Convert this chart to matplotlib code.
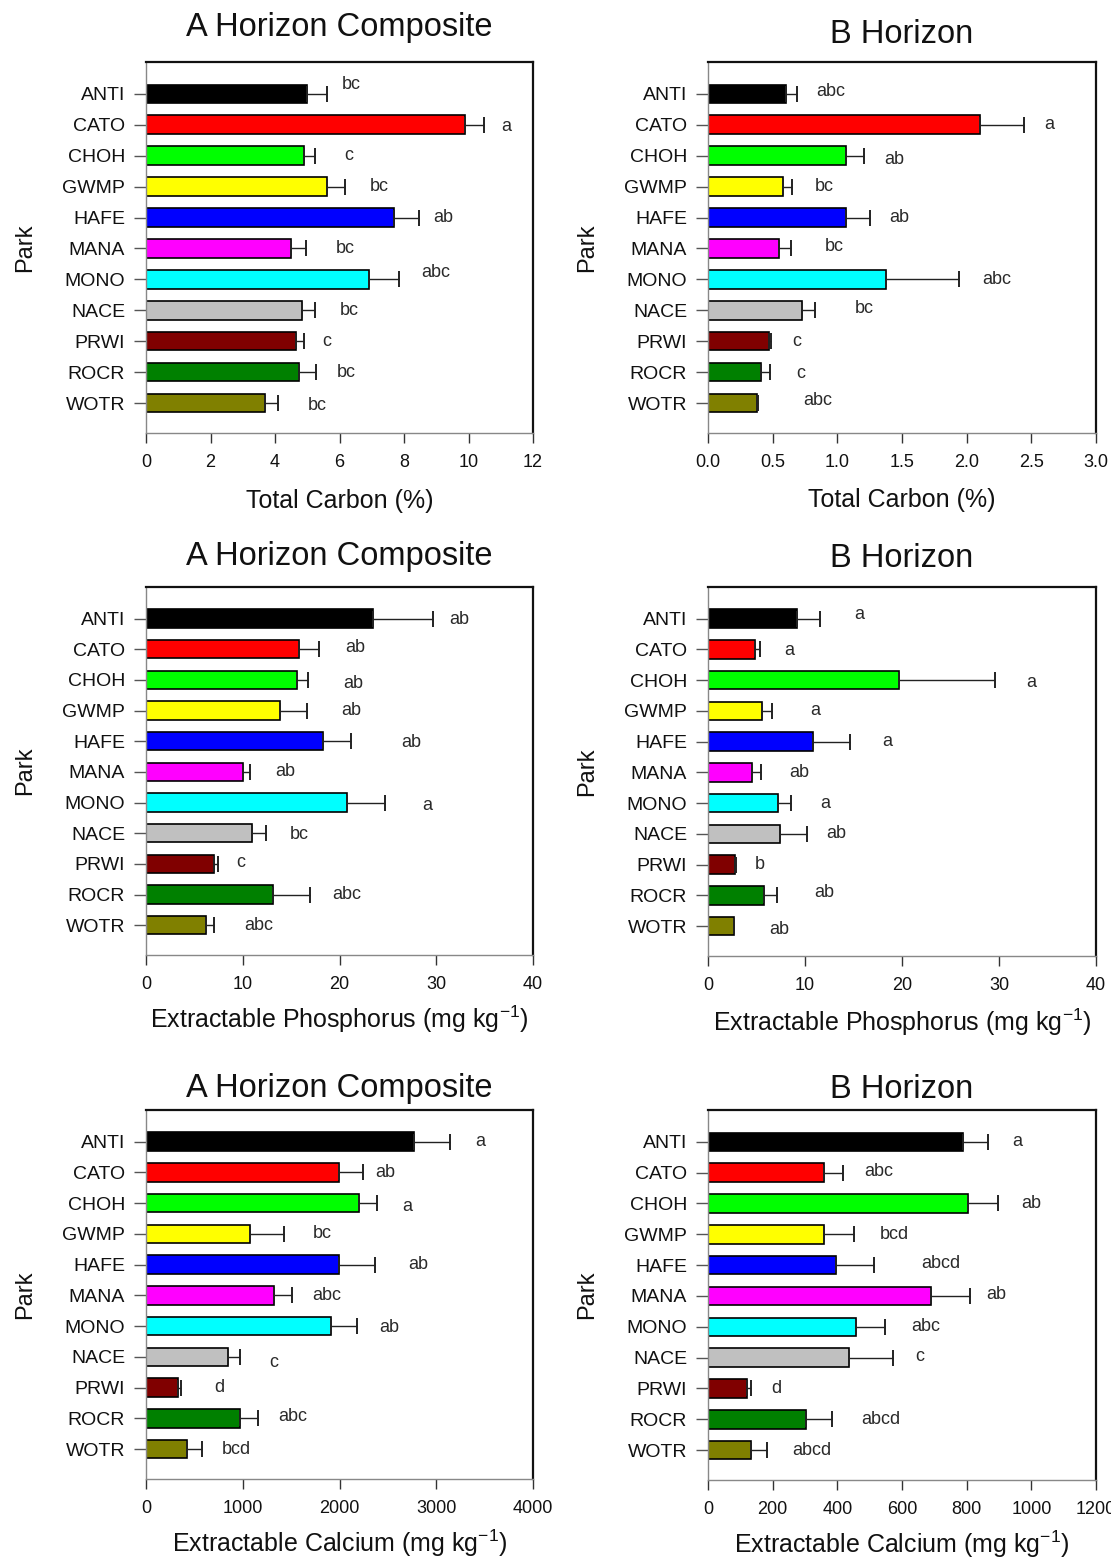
import matplotlib
matplotlib.use('Agg')
import matplotlib.pyplot as plt
import numpy as np

plt.rcParams['font.family'] = ['Liberation Sans', 'DejaVu Sans']
plt.rcParams['mathtext.fontset'] = 'custom'
plt.rcParams['mathtext.rm'] = 'Liberation Sans'
plt.rcParams['mathtext.it'] = 'Liberation Sans:italic'
plt.rcParams['mathtext.bf'] = 'Liberation Sans:bold'
plt.rcParams['mathtext.default'] = 'regular'

# ---------------- data ----------------
parks = ['ANTI', 'CATO', 'CHOH', 'GWMP', 'HAFE', 'MANA', 'MONO', 'NACE', 'PRWI', 'ROCR', 'WOTR']
colors = ['#000000', '#FF0000', '#00FF00', '#FFFF00', '#0000FF', '#FF00FF',
          '#00FFFF', '#C0C0C0', '#800000', '#008000', '#808000']

# Total Carbon (%) - A horizon composite
carbon_a = [5.0, 9.9, 4.9, 5.6, 7.7, 4.5, 6.9, 4.85, 4.65, 4.75, 3.7]
carbon_a_err = [0.6, 0.57, 0.35, 0.57, 0.78, 0.45, 0.94, 0.38, 0.25, 0.53, 0.38]
carbon_a_letters = ['bc', 'a', 'c', 'bc', 'ab', 'bc', 'abc', 'bc', 'c', 'bc', 'bc']
carbon_a_lx = [6.37, 11.18, 6.3, 7.24, 9.23, 6.19, 9.0, 6.3, 5.59, 6.22, 5.31]
carbon_a_ldy = [-0.29, 0.05, 0, 0, 0, 0, -0.21, 0, 0, 0, 0.08]

# Total Carbon (%) - B horizon
carbon_b = [0.60, 2.10, 1.07, 0.58, 1.07, 0.55, 1.38, 0.73, 0.47, 0.41, 0.38]
carbon_b_err = [0.09, 0.34, 0.14, 0.07, 0.18, 0.09, 0.56, 0.10, 0.02, 0.07, 0.01]
carbon_b_letters = ['abc', 'a', 'ab', 'bc', 'ab', 'bc', 'abc', 'bc', 'c', 'c', 'abc']
carbon_b_lx = [0.95, 2.64, 1.44, 0.90, 1.48, 0.98, 2.23, 1.21, 0.69, 0.72, 0.85]
carbon_b_ldy = [-0.08, 0, 0.11, 0, 0, -0.05, 0, -0.05, 0, 0.05, -0.09]

# Extractable Phosphorus (mg/kg) - A horizon composite
phos_a = [23.5, 15.8, 15.6, 13.8, 18.3, 10.0, 20.8, 11.0, 7.0, 13.1, 6.25]
phos_a_err = [6.2, 2.1, 1.1, 2.8, 2.9, 0.7, 3.9, 1.4, 0.4, 3.9, 0.75]
phos_a_letters = ['ab', 'ab', 'ab', 'ab', 'ab', 'ab', 'a', 'bc', 'c', 'abc', 'abc']
phos_a_lx = [32.4, 21.6, 21.4, 21.2, 27.4, 14.4, 29.1, 15.8, 9.8, 20.8, 11.7]
phos_a_ldy = [0.03, -0.05, 0.11, 0, 0.05, 0, 0.11, 0.05, -0.05, 0, 0]

# Extractable Phosphorus (mg/kg) - B horizon
phos_b = [9.15, 4.83, 19.7, 5.56, 10.8, 4.57, 7.2, 7.4, 2.8, 5.78, 2.63]
phos_b_err = [2.4, 0.5, 9.9, 1.0, 3.8, 0.9, 1.35, 2.8, 0.1, 1.3, 0.05]
phos_b_letters = ['a', 'a', 'a', 'a', 'a', 'ab', 'a', 'ab', 'b', 'ab', 'ab']
phos_b_lx = [15.55, 8.4, 33.3, 11.1, 18.5, 9.4, 12.1, 13.2, 5.34, 12.0, 7.3]
phos_b_ldy = [-0.15, 0.05, 0.08, 0, 0, 0, 0, 0, 0, -0.11, 0.11]

# Extractable Calcium (mg/kg) - A horizon composite
calc_a = [2768, 1994, 2203, 1075, 1994, 1328, 1912, 848, 331, 967, 428]
calc_a_err = [372, 246, 186, 354, 376, 186, 265, 119, 34, 186, 149]
calc_a_letters = ['a', 'ab', 'a', 'bc', 'ab', 'abc', 'ab', 'c', 'd', 'abc', 'bcd']
calc_a_lx = [3450, 2470, 2698, 1823, 2817, 1868, 2519, 1317, 759, 1514, 930]
calc_a_ldy = [0, 0, 0.11, 0, 0, 0, 0.05, 0.18, 0, -0.05, 0]

# Extractable Calcium (mg/kg) - B horizon
calc_b = [788, 359, 804, 358, 397, 689, 458, 435, 121, 303, 134]
calc_b_err = [77, 60, 92, 94, 117, 120, 88, 136, 12, 79, 48]
calc_b_letters = ['a', 'abc', 'ab', 'bcd', 'abcd', 'ab', 'abc', 'c', 'd', 'abcd', 'abcd']
calc_b_lx = [957, 527, 999, 576, 719, 891, 672, 656, 211, 536, 321]
calc_b_ldy = [0, -0.05, 0, 0, -0.05, -0.05, 0, -0.05, 0, 0, 0]

carbon_a_ticks = [0, 2, 4, 6, 8, 10, 12]
carbon_b_ticks = [0.0, 0.5, 1.0, 1.5, 2.0, 2.5, 3.0]
phos_ticks = [0, 10, 20, 30, 40]
calc_a_ticks = [0, 1000, 2000, 3000, 4000]
calc_b_ticks = [0, 200, 400, 600, 800, 1000, 1200]

# ---------------- figure ----------------
W, H = 1111, 1559
fig = plt.figure(figsize=(W / 100, H / 100), dpi=100)


def make_axes(left, right, top, bottom):
    return fig.add_axes([left / W, 1 - bottom / H, (right - left) / W, (bottom - top) / H])


def panel(box, vals, errs, letters, lx, ldy, ticks, ticklabels, title, title_base,
          xlabel, xlabel_base, park_x):
    left, right, top, bottom = box
    ax = make_axes(left, right, top, bottom)
    n = len(parks)
    y = np.arange(n)
    ax.barh(y, vals, height=0.6, color=colors, edgecolor='black', linewidth=1.2, zorder=2)
    eb = ax.errorbar(vals, y, xerr=[np.zeros(n), errs], fmt='none', ecolor='#222222',
                     elinewidth=1.0, capsize=6, capthick=1.4, zorder=3)
    for i in range(n):
        ax.text(lx[i], y[i] + ldy[i], letters[i], ha='center', va='center',
                fontsize=13, color='#2a2a2a', zorder=4)
    ax.set_ylim(10.97, -1.03)
    ax.set_xlim(ticks[0], ticks[-1])
    ax.set_yticks(y)
    ax.set_yticklabels(parks)
    ax.set_xticks(ticks)
    ax.set_xticklabels(ticklabels)
    ax.tick_params(axis='y', direction='out', length=9, width=1.0, color='#555555',
                   pad=6, labelsize=14, labelcolor='#111111')
    ax.tick_params(axis='x', direction='out', length=7, width=1.0, color='#333333',
                   pad=8, labelsize=13, labelcolor='#111111')
    for s in ['left', 'bottom']:
        ax.spines[s].set_color('#888888')
        ax.spines[s].set_linewidth(1.0)
    for s in ['top', 'right']:
        ax.spines[s].set_color('#111111')
        ax.spines[s].set_linewidth(1.6)
    hpx = bottom - top
    wpx = right - left
    ax.set_xlabel(xlabel, fontsize=18, color='#111111')
    ax.xaxis.label.set_va('baseline')
    ax.xaxis.set_label_coords(0.5, -(xlabel_base - bottom) / hpx)
    ax.set_ylabel('Park', fontsize=17, color='#111111')
    ax.yaxis.label.set_va('center')
    ax.yaxis.set_label_coords((park_x - left) / wpx, 0.5)
    fig.text((left + right) / 2 / W, 1 - title_base / H, title, ha='center',
             va='baseline', fontsize=23.5, color='#111111')
    return ax


phos_label = r'Extractable Phosphorus (mg kg$^{-1}$)'
calc_label = r'Extractable Calcium (mg kg$^{-1}$)'

panel((146, 533, 62, 433), carbon_a, carbon_a_err, carbon_a_letters, carbon_a_lx, carbon_a_ldy,
      carbon_a_ticks, [str(t) for t in carbon_a_ticks], 'A Horizon Composite', 36,
      'Total Carbon (%)', 508, 25)
panel((708, 1096, 62, 433), carbon_b, carbon_b_err, carbon_b_letters, carbon_b_lx, carbon_b_ldy,
      carbon_b_ticks, ['%.1f' % t for t in carbon_b_ticks], 'B Horizon', 43,
      'Total Carbon (%)', 507, 587)
panel((146, 533, 587, 955), phos_a, phos_a_err, phos_a_letters, phos_a_lx, phos_a_ldy,
      phos_ticks, [str(t) for t in phos_ticks], 'A Horizon Composite', 565,
      phos_label, 1028, 25)
panel((708, 1096, 587, 956), phos_b, phos_b_err, phos_b_letters, phos_b_lx, phos_b_ldy,
      phos_ticks, [str(t) for t in phos_ticks], 'B Horizon', 567,
      phos_label, 1031, 587)
panel((146, 533, 1110, 1479), calc_a, calc_a_err, calc_a_letters, calc_a_lx, calc_a_ldy,
      calc_a_ticks, [str(t) for t in calc_a_ticks], 'A Horizon Composite', 1097,
      calc_label, 1552, 25)
panel((708, 1096, 1110, 1480), calc_b, calc_b_err, calc_b_letters, calc_b_lx, calc_b_ldy,
      calc_b_ticks, [str(t) for t in calc_b_ticks], 'B Horizon', 1098,
      calc_label, 1553, 587)

fig.savefig('out.png', dpi=100)
